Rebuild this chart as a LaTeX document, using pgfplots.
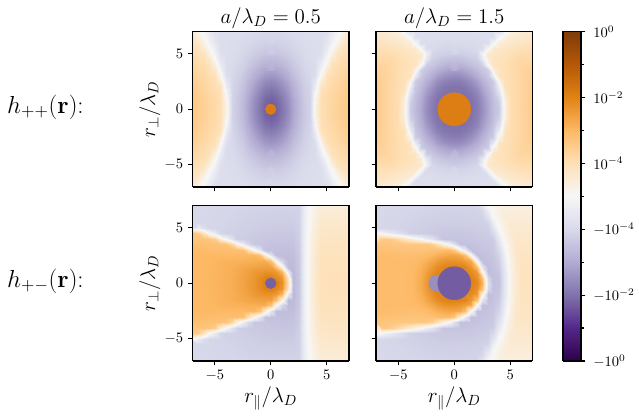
\RequirePackage{fix-cm}
\documentclass[border=0pt]{standalone}
\usepackage{pgfplots}
\usepackage{pgfplotstable}
\pgfplotsset{compat=1.18}

\pgfplotsset{colormap={puor}{rgb255=(45,0,75) rgb255=(84,39,136) rgb255=(128,115,172) rgb255=(178,171,210) rgb255=(216,218,235) rgb255=(247,247,247) rgb255=(254,224,182) rgb255=(253,184,99) rgb255=(224,130,20) rgb255=(179,88,6) rgb255=(127,59,8)}}

% colour-scale positions t in [-1,1] (symlog of h), quadrant x,y in 0..7 step 0.5 (x fastest)
\pgfplotstableread[row sep=\\]{t\\
-0.68\\ -0.649\\ -0.59\\ -0.508\\ -0.42\\ -0.339\\ -0.275\\ -0.23\\ 0.06\\ 0.207\\ 0.23\\ 0.252\\ 0.275\\ 0.297\\ 0.315\\
-0.663\\ -0.642\\ -0.585\\ -0.504\\ -0.416\\ -0.337\\ -0.273\\ -0.229\\ 0.052\\ 0.206\\ 0.229\\ 0.251\\ 0.274\\ 0.296\\ 0.315\\
-0.644\\ -0.624\\ -0.568\\ -0.491\\ -0.407\\ -0.33\\ -0.269\\ -0.227\\ 0.023\\ 0.203\\ 0.225\\ 0.248\\ 0.27\\ 0.292\\ 0.313\\
-0.613\\ -0.594\\ -0.542\\ -0.47\\ -0.391\\ -0.32\\ -0.263\\ -0.223\\ -0.019\\ 0.198\\ 0.22\\ 0.242\\ 0.264\\ 0.286\\ 0.309\\
-0.573\\ -0.556\\ -0.509\\ -0.443\\ -0.371\\ -0.306\\ -0.254\\ -0.218\\ -0.07\\ 0.188\\ 0.213\\ 0.235\\ 0.256\\ 0.278\\ 0.3\\
-0.527\\ -0.511\\ -0.47\\ -0.411\\ -0.348\\ -0.29\\ -0.245\\ -0.213\\ -0.12\\ 0.106\\ 0.204\\ 0.225\\ 0.247\\ 0.268\\ 0.29\\
-0.477\\ -0.464\\ -0.428\\ -0.378\\ -0.323\\ -0.274\\ -0.234\\ -0.207\\ -0.166\\ 0.034\\ 0.193\\ 0.215\\ 0.236\\ 0.257\\ 0.278\\
-0.428\\ -0.417\\ -0.387\\ -0.344\\ -0.299\\ -0.257\\ -0.224\\ -0.201\\ -0.186\\ -0.027\\ 0.146\\ 0.202\\ 0.223\\ 0.243\\ 0.264\\
-0.38\\ -0.372\\ -0.347\\ -0.312\\ -0.275\\ -0.241\\ -0.214\\ -0.195\\ -0.183\\ -0.079\\ 0.066\\ 0.189\\ 0.209\\ 0.229\\ 0.249\\
-0.337\\ -0.33\\ -0.311\\ -0.283\\ -0.254\\ -0.227\\ -0.205\\ -0.19\\ -0.18\\ -0.123\\ 0.007\\ 0.137\\ 0.194\\ 0.213\\ 0.232\\
-0.299\\ -0.294\\ -0.279\\ -0.258\\ -0.235\\ -0.214\\ -0.197\\ -0.185\\ -0.178\\ -0.158\\ -0.043\\ 0.065\\ 0.178\\ 0.196\\ 0.215\\
-0.267\\ -0.263\\ -0.252\\ -0.236\\ -0.219\\ -0.203\\ -0.19\\ -0.182\\ -0.176\\ -0.173\\ -0.085\\ 0.013\\ 0.109\\ 0.179\\ 0.197\\
-0.241\\ -0.238\\ -0.23\\ -0.218\\ -0.206\\ -0.194\\ -0.185\\ -0.179\\ -0.174\\ -0.172\\ -0.119\\ -0.03\\ 0.05\\ 0.14\\ 0.178\\
-0.221\\ -0.219\\ -0.213\\ -0.204\\ -0.195\\ -0.187\\ -0.181\\ -0.176\\ -0.173\\ -0.171\\ -0.146\\ -0.066\\ 0.009\\ 0.077\\ 0.16\\
-0.205\\ -0.204\\ -0.2\\ -0.194\\ -0.188\\ -0.182\\ -0.177\\ -0.174\\ -0.172\\ -0.171\\ -0.168\\ -0.097\\ -0.026\\ 0.033\\ 0.096\\
}\TLq

\pgfplotstableread[row sep=\\]{t\\
-0.6\\ -0.6\\ -0.6\\ -0.6\\ -0.57\\ -0.501\\ -0.413\\ -0.328\\ -0.262\\ 0.08\\ 0.209\\ 0.232\\ 0.254\\ 0.277\\ 0.299\\
-0.6\\ -0.6\\ -0.6\\ -0.599\\ -0.566\\ -0.496\\ -0.408\\ -0.325\\ -0.252\\ 0.085\\ 0.209\\ 0.232\\ 0.254\\ 0.276\\ 0.299\\
-0.6\\ -0.6\\ -0.6\\ -0.594\\ -0.552\\ -0.479\\ -0.394\\ -0.315\\ -0.217\\ 0.107\\ 0.209\\ 0.231\\ 0.253\\ 0.276\\ 0.298\\
-0.6\\ -0.6\\ -0.599\\ -0.577\\ -0.527\\ -0.453\\ -0.372\\ -0.299\\ -0.153\\ 0.15\\ 0.209\\ 0.231\\ 0.253\\ 0.275\\ 0.297\\
-0.597\\ -0.594\\ -0.58\\ -0.546\\ -0.489\\ -0.418\\ -0.343\\ -0.279\\ -0.066\\ 0.188\\ 0.21\\ 0.231\\ 0.253\\ 0.274\\ 0.295\\
-0.569\\ -0.562\\ -0.54\\ -0.499\\ -0.442\\ -0.376\\ -0.311\\ -0.258\\ 0.049\\ 0.191\\ 0.212\\ 0.233\\ 0.254\\ 0.274\\ 0.291\\
-0.514\\ -0.506\\ -0.481\\ -0.441\\ -0.389\\ -0.332\\ -0.279\\ -0.101\\ 0.174\\ 0.194\\ 0.214\\ 0.234\\ 0.254\\ 0.274\\ 0.28\\
-0.445\\ -0.437\\ -0.414\\ -0.379\\ -0.335\\ -0.29\\ -0.249\\ 0.068\\ 0.178\\ 0.197\\ 0.216\\ 0.235\\ 0.254\\ 0.268\\ 0.268\\
-0.374\\ -0.367\\ -0.348\\ -0.32\\ -0.287\\ -0.253\\ 0.0\\ 0.163\\ 0.181\\ 0.199\\ 0.217\\ 0.235\\ 0.253\\ 0.253\\ 0.253\\
-0.31\\ -0.305\\ -0.291\\ -0.27\\ -0.247\\ -0.112\\ 0.109\\ 0.162\\ 0.179\\ 0.196\\ 0.213\\ 0.23\\ 0.237\\ 0.237\\ 0.237\\
-0.259\\ -0.255\\ -0.246\\ -0.233\\ -0.217\\ -0.051\\ 0.137\\ 0.153\\ 0.169\\ 0.184\\ 0.2\\ 0.216\\ 0.219\\ 0.219\\ 0.219\\
-0.222\\ -0.22\\ -0.214\\ -0.206\\ -0.197\\ -0.189\\ -0.02\\ 0.126\\ 0.14\\ 0.154\\ 0.169\\ 0.183\\ 0.197\\ 0.198\\ 0.198\\
-0.198\\ -0.197\\ -0.194\\ -0.189\\ -0.184\\ -0.18\\ -0.176\\ -0.017\\ 0.101\\ 0.125\\ 0.137\\ 0.15\\ 0.162\\ 0.175\\ 0.176\\
-0.184\\ -0.184\\ -0.182\\ -0.18\\ -0.177\\ -0.175\\ -0.173\\ -0.172\\ -0.016\\ 0.079\\ 0.108\\ 0.118\\ 0.129\\ 0.14\\ 0.151\\
-0.177\\ -0.176\\ -0.176\\ -0.174\\ -0.173\\ -0.172\\ -0.171\\ -0.171\\ -0.17\\ -0.028\\ 0.053\\ 0.088\\ 0.097\\ 0.106\\ 0.115\\
}\TRq

% half planes: x in -7..7 step 0.5 (x fastest), y in 0..7 step 0.5
\pgfplotstableread[row sep=\\]{t\\
0.392\\ 0.396\\ 0.4\\ 0.405\\ 0.411\\ 0.419\\ 0.429\\ 0.441\\ 0.457\\ 0.476\\ 0.501\\ 0.531\\ 0.57\\ 0.619\\ 0.62\\ 0.619\\ 0.553\\ 0.209\\ -0.345\\ -0.276\\ -0.062\\ 0.055\\ 0.135\\ 0.19\\ 0.19\\ 0.19\\ 0.19\\ 0.19\\ 0.19\\
0.392\\ 0.396\\ 0.4\\ 0.405\\ 0.411\\ 0.418\\ 0.428\\ 0.44\\ 0.455\\ 0.474\\ 0.498\\ 0.526\\ 0.561\\ 0.597\\ 0.612\\ 0.577\\ 0.524\\ 0.161\\ -0.344\\ -0.275\\ -0.062\\ 0.055\\ 0.134\\ 0.189\\ 0.189\\ 0.189\\ 0.189\\ 0.189\\ 0.189\\
0.392\\ 0.395\\ 0.399\\ 0.404\\ 0.41\\ 0.417\\ 0.426\\ 0.437\\ 0.451\\ 0.469\\ 0.489\\ 0.513\\ 0.531\\ 0.545\\ 0.543\\ 0.521\\ 0.413\\ -0.1\\ -0.34\\ -0.273\\ -0.062\\ 0.054\\ 0.133\\ 0.188\\ 0.188\\ 0.188\\ 0.188\\ 0.188\\ 0.188\\
0.391\\ 0.395\\ 0.399\\ 0.402\\ 0.408\\ 0.415\\ 0.423\\ 0.434\\ 0.446\\ 0.456\\ 0.465\\ 0.476\\ 0.486\\ 0.49\\ 0.485\\ 0.372\\ 0.056\\ -0.338\\ -0.335\\ -0.27\\ -0.063\\ 0.053\\ 0.13\\ 0.185\\ 0.185\\ 0.185\\ 0.185\\ 0.185\\ 0.185\\
0.39\\ 0.394\\ 0.397\\ 0.401\\ 0.406\\ 0.412\\ 0.419\\ 0.419\\ 0.422\\ 0.426\\ 0.432\\ 0.437\\ 0.442\\ 0.442\\ 0.351\\ 0.0\\ -0.22\\ -0.33\\ -0.327\\ -0.267\\ -0.063\\ 0.051\\ 0.127\\ 0.182\\ 0.182\\ 0.182\\ 0.182\\ 0.182\\ 0.182\\
0.39\\ 0.393\\ 0.396\\ 0.4\\ 0.397\\ 0.395\\ 0.394\\ 0.394\\ 0.394\\ 0.396\\ 0.398\\ 0.401\\ 0.353\\ 0.103\\ -0.137\\ -0.321\\ -0.322\\ -0.321\\ -0.318\\ -0.262\\ -0.065\\ 0.049\\ 0.123\\ 0.177\\ 0.177\\ 0.177\\ 0.177\\ 0.177\\ 0.177\\
0.389\\ 0.386\\ 0.382\\ 0.377\\ 0.374\\ 0.372\\ 0.37\\ 0.368\\ 0.367\\ 0.367\\ 0.212\\ 0.03\\ -0.128\\ -0.303\\ -0.308\\ -0.31\\ -0.311\\ -0.31\\ -0.308\\ -0.257\\ -0.066\\ 0.046\\ 0.118\\ 0.172\\ 0.172\\ 0.172\\ 0.172\\ 0.172\\ 0.172\\
0.368\\ 0.364\\ 0.361\\ 0.356\\ 0.352\\ 0.348\\ 0.346\\ 0.257\\ 0.072\\ -0.072\\ -0.205\\ -0.281\\ -0.287\\ -0.293\\ -0.296\\ -0.299\\ -0.3\\ -0.299\\ -0.296\\ -0.252\\ -0.067\\ 0.043\\ 0.112\\ 0.165\\ 0.165\\ 0.165\\ 0.165\\ 0.165\\ 0.165\\
0.348\\ 0.343\\ 0.339\\ 0.334\\ 0.293\\ 0.13\\ -0.019\\ -0.144\\ -0.252\\ -0.259\\ -0.265\\ -0.271\\ -0.277\\ -0.282\\ -0.285\\ -0.287\\ -0.288\\ -0.287\\ -0.285\\ -0.246\\ -0.069\\ 0.039\\ 0.105\\ 0.157\\ 0.157\\ 0.157\\ 0.157\\ 0.157\\ 0.157\\
0.327\\ 0.303\\ 0.171\\ 0.0\\ -0.103\\ -0.214\\ -0.233\\ -0.239\\ -0.245\\ -0.251\\ -0.257\\ -0.262\\ -0.267\\ -0.271\\ -0.274\\ -0.276\\ -0.276\\ -0.276\\ -0.274\\ -0.241\\ -0.071\\ 0.036\\ 0.098\\ 0.149\\ 0.149\\ 0.149\\ 0.149\\ 0.149\\ 0.149\\
0.0\\ -0.084\\ -0.17\\ -0.216\\ -0.22\\ -0.224\\ -0.228\\ -0.233\\ -0.238\\ -0.243\\ -0.248\\ -0.253\\ -0.257\\ -0.261\\ -0.263\\ -0.265\\ -0.265\\ -0.265\\ -0.263\\ -0.237\\ -0.073\\ 0.032\\ 0.09\\ 0.139\\ 0.139\\ 0.139\\ 0.139\\ 0.139\\ 0.139\\
-0.194\\ -0.208\\ -0.211\\ -0.213\\ -0.217\\ -0.22\\ -0.224\\ -0.228\\ -0.232\\ -0.236\\ -0.241\\ -0.244\\ -0.248\\ -0.251\\ -0.253\\ -0.254\\ -0.255\\ -0.254\\ -0.253\\ -0.233\\ -0.076\\ 0.027\\ 0.081\\ 0.128\\ 0.128\\ 0.128\\ 0.128\\ 0.128\\ 0.128\\
-0.205\\ -0.207\\ -0.209\\ -0.211\\ -0.214\\ -0.217\\ -0.22\\ -0.223\\ -0.227\\ -0.23\\ -0.234\\ -0.237\\ -0.24\\ -0.242\\ -0.244\\ -0.245\\ -0.245\\ -0.245\\ -0.244\\ -0.231\\ -0.079\\ 0.023\\ 0.072\\ 0.117\\ 0.117\\ 0.117\\ 0.117\\ 0.117\\ 0.117\\
-0.204\\ -0.206\\ -0.207\\ -0.209\\ -0.211\\ -0.213\\ -0.216\\ -0.219\\ -0.222\\ -0.224\\ -0.227\\ -0.23\\ -0.232\\ -0.234\\ -0.236\\ -0.236\\ -0.237\\ -0.236\\ -0.236\\ -0.228\\ -0.081\\ 0.019\\ 0.062\\ 0.104\\ 0.104\\ 0.104\\ 0.104\\ 0.104\\ 0.104\\
-0.204\\ -0.205\\ -0.206\\ -0.207\\ -0.209\\ -0.211\\ -0.213\\ -0.215\\ -0.217\\ -0.22\\ -0.222\\ -0.224\\ -0.226\\ -0.227\\ -0.228\\ -0.229\\ -0.229\\ -0.229\\ -0.228\\ -0.227\\ -0.085\\ 0.015\\ 0.052\\ 0.09\\ 0.09\\ 0.09\\ 0.09\\ 0.09\\ 0.09\\
}\BLh

\pgfplotstableread[row sep=\\]{t\\
0.38\\ 0.38\\ 0.38\\ 0.38\\ 0.381\\ 0.382\\ 0.39\\ 0.41\\ 0.451\\ 0.513\\ 0.574\\ 0.6\\ 0.58\\ 0.58\\ 0.58\\ 0.58\\ 0.58\\ 0.6\\ 0.574\\ 0.429\\ -0.176\\ -0.31\\ -0.295\\ -0.105\\ 0.034\\ 0.119\\ 0.17\\ 0.17\\ 0.17\\
0.38\\ 0.38\\ 0.38\\ 0.38\\ 0.38\\ 0.382\\ 0.389\\ 0.408\\ 0.447\\ 0.507\\ 0.568\\ 0.599\\ 0.58\\ 0.58\\ 0.58\\ 0.58\\ 0.58\\ 0.599\\ 0.548\\ 0.366\\ -0.204\\ -0.309\\ -0.294\\ -0.105\\ 0.034\\ 0.119\\ 0.17\\ 0.17\\ 0.17\\
0.38\\ 0.38\\ 0.38\\ 0.38\\ 0.38\\ 0.382\\ 0.387\\ 0.402\\ 0.435\\ 0.488\\ 0.548\\ 0.59\\ 0.58\\ 0.58\\ 0.58\\ 0.58\\ 0.58\\ 0.57\\ 0.508\\ 0.071\\ -0.321\\ -0.306\\ -0.284\\ -0.097\\ 0.037\\ 0.121\\ 0.168\\ 0.168\\ 0.168\\
0.38\\ 0.38\\ 0.38\\ 0.38\\ 0.38\\ 0.381\\ 0.385\\ 0.395\\ 0.419\\ 0.461\\ 0.513\\ 0.561\\ 0.59\\ 0.599\\ 0.6\\ 0.599\\ 0.59\\ 0.521\\ 0.363\\ -0.125\\ -0.315\\ -0.301\\ -0.265\\ -0.082\\ 0.043\\ 0.126\\ 0.165\\ 0.165\\ 0.165\\
0.38\\ 0.38\\ 0.38\\ 0.38\\ 0.38\\ 0.381\\ 0.383\\ 0.389\\ 0.404\\ 0.428\\ 0.464\\ 0.503\\ 0.532\\ 0.547\\ 0.547\\ 0.532\\ 0.503\\ 0.453\\ 0.0\\ -0.319\\ -0.307\\ -0.294\\ -0.246\\ -0.067\\ 0.049\\ 0.129\\ 0.162\\ 0.162\\ 0.162\\
0.38\\ 0.378\\ 0.376\\ 0.373\\ 0.371\\ 0.369\\ 0.367\\ 0.367\\ 0.372\\ 0.384\\ 0.405\\ 0.43\\ 0.452\\ 0.466\\ 0.466\\ 0.451\\ 0.368\\ 0.0\\ -0.319\\ -0.309\\ -0.298\\ -0.286\\ -0.216\\ -0.043\\ 0.058\\ 0.137\\ 0.157\\ 0.157\\ 0.157\\
0.361\\ 0.358\\ 0.356\\ 0.353\\ 0.351\\ 0.349\\ 0.346\\ 0.345\\ 0.345\\ 0.348\\ 0.357\\ 0.369\\ 0.379\\ 0.386\\ 0.33\\ 0.093\\ -0.093\\ -0.315\\ -0.307\\ -0.298\\ -0.288\\ -0.277\\ -0.183\\ -0.016\\ 0.068\\ 0.144\\ 0.152\\ 0.152\\ 0.152\\
0.341\\ 0.338\\ 0.336\\ 0.333\\ 0.331\\ 0.328\\ 0.326\\ 0.323\\ 0.321\\ 0.32\\ 0.293\\ 0.204\\ 0.091\\ -0.025\\ -0.152\\ -0.309\\ -0.306\\ -0.301\\ -0.294\\ -0.286\\ -0.277\\ -0.268\\ -0.139\\ 0.01\\ 0.083\\ 0.145\\ 0.145\\ 0.145\\ 0.145\\
0.321\\ 0.318\\ 0.316\\ 0.288\\ 0.243\\ 0.185\\ 0.122\\ 0.06\\ 0.0\\ -0.077\\ -0.135\\ -0.218\\ -0.291\\ -0.294\\ -0.295\\ -0.294\\ -0.291\\ -0.287\\ -0.281\\ -0.274\\ -0.266\\ -0.258\\ -0.094\\ 0.027\\ 0.096\\ 0.137\\ 0.137\\ 0.137\\ 0.137\\
0.02\\ -0.024\\ -0.064\\ -0.11\\ -0.145\\ -0.196\\ -0.242\\ -0.249\\ -0.256\\ -0.262\\ -0.268\\ -0.273\\ -0.277\\ -0.279\\ -0.28\\ -0.279\\ -0.277\\ -0.273\\ -0.268\\ -0.262\\ -0.256\\ -0.197\\ -0.039\\ 0.048\\ 0.112\\ 0.129\\ 0.129\\ 0.129\\ 0.129\\
-0.209\\ -0.212\\ -0.216\\ -0.22\\ -0.224\\ -0.23\\ -0.235\\ -0.241\\ -0.246\\ -0.252\\ -0.256\\ -0.261\\ -0.264\\ -0.266\\ -0.266\\ -0.266\\ -0.264\\ -0.261\\ -0.256\\ -0.252\\ -0.246\\ -0.135\\ 0.006\\ 0.065\\ 0.119\\ 0.119\\ 0.119\\ 0.119\\ 0.119\\
-0.208\\ -0.21\\ -0.213\\ -0.216\\ -0.22\\ -0.224\\ -0.228\\ -0.233\\ -0.237\\ -0.242\\ -0.246\\ -0.249\\ -0.252\\ -0.253\\ -0.254\\ -0.253\\ -0.252\\ -0.249\\ -0.246\\ -0.242\\ -0.216\\ -0.067\\ 0.029\\ 0.083\\ 0.108\\ 0.108\\ 0.108\\ 0.108\\ 0.108\\
-0.206\\ -0.208\\ -0.21\\ -0.213\\ -0.216\\ -0.219\\ -0.223\\ -0.226\\ -0.23\\ -0.233\\ -0.236\\ -0.239\\ -0.241\\ -0.242\\ -0.243\\ -0.242\\ -0.241\\ -0.239\\ -0.236\\ -0.233\\ -0.144\\ 0.0\\ 0.048\\ 0.097\\ 0.097\\ 0.097\\ 0.097\\ 0.097\\ 0.097\\
-0.205\\ -0.206\\ -0.208\\ -0.21\\ -0.212\\ -0.215\\ -0.218\\ -0.22\\ -0.223\\ -0.226\\ -0.228\\ -0.23\\ -0.232\\ -0.233\\ -0.233\\ -0.233\\ -0.232\\ -0.23\\ -0.228\\ -0.212\\ -0.07\\ 0.021\\ 0.063\\ 0.084\\ 0.084\\ 0.084\\ 0.084\\ 0.084\\ 0.084\\
-0.204\\ -0.205\\ -0.206\\ -0.208\\ -0.209\\ -0.211\\ -0.213\\ -0.216\\ -0.218\\ -0.22\\ -0.222\\ -0.223\\ -0.224\\ -0.225\\ -0.225\\ -0.225\\ -0.224\\ -0.223\\ -0.222\\ -0.137\\ 0.0\\ 0.035\\ 0.07\\ 0.07\\ 0.07\\ 0.07\\ 0.07\\ 0.07\\ 0.07\\
}\BRh

\pgfplotstableread[row sep=\\]{t\\ -1\\ -1\\ -0.8\\ -0.8\\ -0.6\\ -0.6\\ -0.4\\ -0.4\\ -0.2\\ -0.2\\ 0\\ 0\\ 0.2\\ 0.2\\ 0.4\\ 0.4\\ 0.6\\ 0.6\\ 0.8\\ 0.8\\ 1\\ 1\\}\CB

\newcommand{\quadplot}[3]{%
  \addplot3[surf, shader=interp, mesh/cols=15, point meta=\thisrow{t}]
    table[x index=0, y index=0, z index=0, x expr={#2*mod(\coordindex,15)*0.5}, y expr={#3*floor(\coordindex/15)*0.5}, z expr=0] {#1};}
\newcommand{\halfplot}[2]{%
  \addplot3[surf, shader=interp, mesh/cols=29, point meta=\thisrow{t}]
    table[x index=0, y index=0, z index=0, x expr={mod(\coordindex,29)*0.5-7}, y expr={#2*floor(\coordindex/29)*0.5}, z expr=0] {#1};}

\pgfplotsset{
  disc/.style={scatter, only marks, mark=*, point meta=explicit,
    scatter/use mapped color={draw=mapped color, fill=mapped color}},
  panel/.style={
    scale only axis, width=107.93pt, height=107.24pt,
    xmin=-7, xmax=7, ymin=-7, ymax=7, zmin=-1, zmax=1, view={0}{90},
    xtick={-5,0,5}, ytick={-5,0,5}, ztick=\empty,
    xtick pos=left, ytick pos=left,
    tick align=outside, major tick length=3pt,
    tick style={line width=0.8pt, black},
    axis line style={line width=0.8pt},
    point meta min=-1, point meta max=1, colormap name=puor, axis on top,
    xticklabel style={font=\fontsize{10}{12}\selectfont},
    yticklabel style={font=\fontsize{10}{12}\selectfont},
    every axis title shift=0pt,
    title style={font=\fontsize{14.5}{17}\selectfont, at={(axis description cs:0.5,1)}, anchor=base, yshift=5.7pt},
    xlabel style={font=\fontsize{14.5}{17}\selectfont, at={(axis description cs:0.5,-0.266)}, anchor=base},
    ylabel style={font=\fontsize{14.5}{17}\selectfont, at={(axis description cs:-0.272,0.5)}, anchor=center},
  },
}

\begin{document}
\begin{tikzpicture}
\path[use as bounding box] (0,0) rectangle (440.69pt,-286.21pt);

% top left
\begin{axis}[panel, at={(132.76pt,-21.72pt)}, anchor=north west,
  title={$a/\lambda_D=0.5$}, xticklabels={}, ylabel={$r_\perp/\lambda_D$}]
\quadplot{\TLq}{1}{1}\quadplot{\TLq}{-1}{1}\quadplot{\TLq}{1}{-1}\quadplot{\TLq}{-1}{-1}
\addplot3[disc, mark size=3.65pt] coordinates {(0,0,0) [0.63]};
\end{axis}

% top right
\begin{axis}[panel, at={(259.31pt,-21.72pt)}, anchor=north west,
  title={$a/\lambda_D=1.5$}, xticklabels={}, yticklabels={}]
\quadplot{\TRq}{1}{1}\quadplot{\TRq}{-1}{1}\quadplot{\TRq}{1}{-1}\quadplot{\TRq}{-1}{-1}
\addplot3[disc, mark size=11.36pt] coordinates {(0,0,0) [0.62]};
\end{axis}

% bottom left
\begin{axis}[panel, at={(132.76pt,-141.72pt)}, anchor=north west,
  xlabel={$r_\parallel/\lambda_D$}, ylabel={$r_\perp/\lambda_D$}]
\halfplot{\BLh}{1}\halfplot{\BLh}{-1}
\addplot3[disc, mark size=3.65pt] coordinates {(0,0,0) [-0.65]};
\end{axis}

% bottom right
\begin{axis}[panel, at={(259.31pt,-141.72pt)}, anchor=north west,
  xlabel={$r_\parallel/\lambda_D$}, yticklabels={}]
\halfplot{\BRh}{1}\halfplot{\BRh}{-1}
\addplot3[disc, mark size=5.58pt] coordinates {(-1.55,0,0) [-0.5]};
\addplot3[disc, mark size=11.36pt] coordinates {(0,0,0) [-0.66]};
\end{axis}

% colour bar
\begin{axis}[at={(388.28pt,-21.72pt)}, anchor=north west, scale only axis,
  width=12.41pt, height=227.24pt, view={0}{90},
  xmin=0, xmax=1, ymin=-1, ymax=1, zmin=-1, zmax=1,
  xtick=\empty, ztick=\empty,
  ytick={-1,-0.6,-0.2,0.2,0.6,1},
  yticklabels={$-10^{0}$,$-10^{-2}$,$-10^{-4}$,$10^{-4}$,$10^{-2}$,$10^{0}$},
  minor ytick={-0.8,-0.4,0,0.4,0.8},
  ytick pos=right, yticklabel pos=right,
  tick align=outside, major tick length=3pt, minor tick length=2pt,
  tick style={line width=0.8pt, black}, axis line style={line width=0.8pt},
  yticklabel style={font=\fontsize{10}{12}\selectfont, xshift=2pt},
  point meta min=-1, point meta max=1, colormap name=puor, axis on top]
\addplot3[surf, shader=interp, mesh/cols=2, point meta=\thisrow{t}]
  table[x index=0, y index=0, z index=0, x expr={mod(\coordindex,2)}, y expr={\thisrow{t}}, z expr=0] {\CB};
\end{axis}

\node[anchor=west, inner sep=0pt, font=\fontsize{17}{20}\selectfont] at (4.8pt,-73.8pt) {$h_{++}(\mathbf{r})$:};
\node[anchor=west, inner sep=0pt, font=\fontsize{17}{20}\selectfont] at (4.8pt,-193.8pt) {$h_{+-}(\mathbf{r})$:};
\end{tikzpicture}
\end{document}
